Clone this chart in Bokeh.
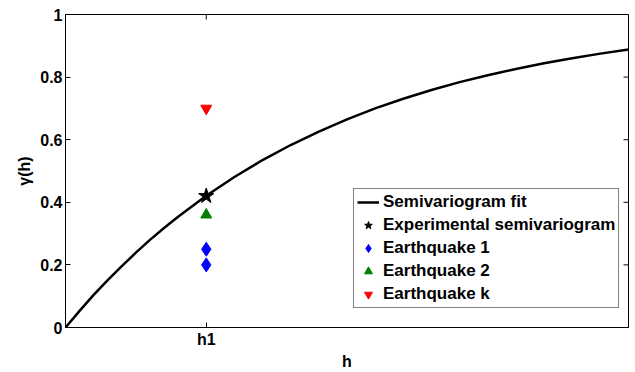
import math
from bokeh.plotting import figure
from bokeh.models import (Range1d, FixedTicker, Legend, LegendItem)
from bokeh.embed import file_html
from bokeh.resources import INLINE

# Semivariogram fit curve
fit_h = [0.0, 0.025, 0.05, 0.075, 0.1, 0.125, 0.15, 0.175, 0.2, 0.25, 0.3, 0.35, 0.4, 0.45, 0.5,
         0.55, 0.6, 0.65, 0.7, 0.75, 0.8, 0.85, 0.9, 0.95, 1.0]
fit_gamma = [0.0, 0.053, 0.104, 0.151, 0.196, 0.239, 0.280, 0.318, 0.354, 0.421, 0.481, 0.535,
             0.583, 0.626, 0.665, 0.700, 0.731, 0.759, 0.784, 0.806, 0.826, 0.844, 0.860, 0.875, 0.888]

h1 = 0.25
exp_h = [h1]
exp_gamma = [0.42]
eq1_h = [h1, h1]
eq1_gamma = [0.25, 0.20]
eq2_h = [h1]
eq2_gamma = [0.36]
eqk_h = [h1]
eqk_gamma = [0.70]

x_ticks = [h1]
x_tick_labels = ["h1"]
y_ticks = [0, 0.2, 0.4, 0.6, 0.8, 1]
y_tick_labels = ["0", "0.2", "0.4", "0.6", "0.8", "1"]

X_MIN, X_MAX = 0, 1
Y_MIN, Y_MAX = 0, 1

FONT = "Liberation Sans"

p = figure(width=635, height=372, output_backend="svg", toolbar_location=None,
           x_range=Range1d(X_MIN, X_MAX), y_range=Range1d(Y_MIN, Y_MAX),
           min_border_left=65, min_border_right=7, min_border_top=14, min_border_bottom=45,
           background_fill_color="white", border_fill_color="white")
p.xgrid.visible = False
p.ygrid.visible = False
p.outline_line_color = "black"
p.outline_line_width = 1
p.outline_line_alpha = 1

def style_axis(ax):
    ax.axis_line_color = "black"
    ax.major_tick_line_color = "black"
    ax.major_tick_in = 5
    ax.major_tick_out = 0
    ax.minor_tick_line_color = None
    ax.major_label_text_font = FONT
    ax.major_label_text_font_style = "bold"
    ax.major_label_text_font_size = "16px"
    ax.major_label_text_color = "black"
    ax.axis_label_text_font = FONT
    ax.axis_label_text_font_style = "bold"
    ax.axis_label_text_font_size = "16px"
    ax.axis_label_text_color = "black"

xa = p.xaxis[0]
xa.ticker = FixedTicker(ticks=x_ticks)
xa.major_label_overrides = dict(zip(x_ticks, x_tick_labels))
xa.axis_label = "h"
style_axis(xa)
xa.major_label_standoff = 3
xa.axis_label_standoff = 2

ya = p.yaxis[0]
ya.ticker = FixedTicker(ticks=y_ticks)
ya.major_label_overrides = dict(zip(y_ticks, y_tick_labels))
ya.axis_label = "γ(h)"
style_axis(ya)
ya.major_label_standoff = 3
ya.axis_label_standoff = 4

# mirrored inward ticks on the right and top edges of the box
p.ray(x=[X_MAX] * len(y_ticks), y=y_ticks, length=5, length_units="screen",
      angle=math.pi, line_color="black", line_width=1)
p.ray(x=x_ticks, y=[Y_MAX] * len(x_ticks), length=5, length_units="screen",
      angle=-math.pi / 2, line_color="black", line_width=1)

r_fit = p.line(fit_h, fit_gamma, line_color="black", line_width=2.5, line_join="round")
r_exp = p.scatter(exp_h, exp_gamma, marker="star", size=16, fill_color="black", line_color="black")
r_eq1 = p.scatter(eq1_h, eq1_gamma, marker="diamond", size=14, fill_color="#0000ff", line_color="#0000ff")
r_eq2 = p.scatter(eq2_h, eq2_gamma, marker="triangle", size=11, fill_color="#008000", line_color="#008000")
r_eqk = p.scatter(eqk_h, eqk_gamma, marker="inverted_triangle", size=11, fill_color="#ff0000", line_color="#ff0000")

legend = Legend(items=[
    LegendItem(label="Semivariogram fit", renderers=[r_fit]),
    LegendItem(label="Experimental semivariogram", renderers=[r_exp]),
    LegendItem(label="Earthquake 1", renderers=[r_eq1]),
    LegendItem(label="Earthquake 2", renderers=[r_eq2]),
    LegendItem(label="Earthquake k", renderers=[r_eqk]),
], location=(288, 19))
legend.label_text_font = FONT
legend.label_text_font_style = "bold"
legend.label_text_font_size = "17px"
legend.label_text_color = "black"
legend.label_height = 20
legend.glyph_height = 20
legend.glyph_width = 22
legend.spacing = 3
legend.padding = 3
legend.label_standoff = 4
legend.border_line_color = "black"
legend.border_line_width = 1
legend.background_fill_color = "white"
legend.background_fill_alpha = 1
p.add_layout(legend)

open("out.html", "w").write(file_html(p, INLINE))
